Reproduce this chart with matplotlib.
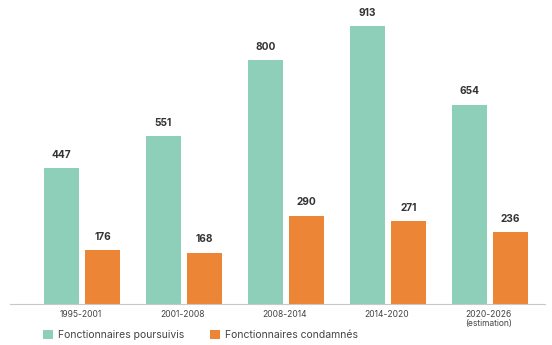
import matplotlib
matplotlib.use("Agg")
import matplotlib.pyplot as plt
import numpy as np

plt.rcParams['font.family'] = ['Inter', 'DejaVu Sans']

periods = ["1995-2001", "2001-2008", "2008-2014", "2014-2020", "2020-2026\n(estimation)"]
poursuivis = [447, 551, 800, 913, 654]
condamnes = [176, 168, 290, 271, 236]

green = "#8dcfb9"
orange = "#ec8536"

fig = plt.figure(figsize=(5.52, 3.45), dpi=100)
ax = fig.add_axes([10/552, 41/345, 535/552, 304/345])

x = np.arange(len(periods))
w = 0.343
off = 0.203
b1 = ax.bar(x - off, poursuivis, w, color=green, label="Fonctionnaires poursuivis")
b2 = ax.bar(x + off, condamnes, w, color=orange, label="Fonctionnaires condamnés")

for bars, vals in ((b1, poursuivis), (b2, condamnes)):
    for b, v in zip(bars, vals):
        ax.annotate(str(v), (b.get_x() + b.get_width()/2, v), xytext=(0, 6),
                    textcoords="offset points", ha="center", va="bottom",
                    fontsize=7.3, fontweight="bold", color="#333333")

ax.set_xlim(-0.706, 4.54)
ax.set_ylim(0, 998)
ax.set_xticks(x - 0.01)
ax.set_xticklabels(periods, fontsize=6.1, color="#444444", linespacing=1.0)
ax.tick_params(axis='x', length=0, pad=4.5)
ax.set_yticks([])
for s in ("top", "right", "left"):
    ax.spines[s].set_visible(False)
ax.spines["bottom"].set_color("#c8c8c8")
ax.spines["bottom"].set_linewidth(0.8)

leg = fig.legend(handles=[b1, b2], loc="lower left", bbox_to_anchor=(36/552, -0.006),
                 ncol=2, frameon=False, fontsize=7.5, handlelength=0.95, handleheight=1.0,
                 columnspacing=2.4, handletextpad=0.5, borderaxespad=0.3)
for t in leg.get_texts():
    t.set_color("#444444")

fig.savefig("out.png", dpi=100)
